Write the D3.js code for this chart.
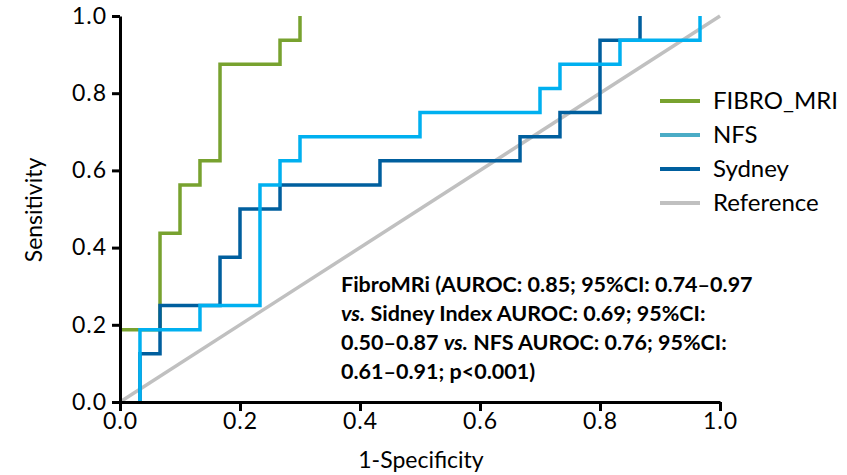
<!DOCTYPE html>
<html lang="en">
<head>
<meta charset="UTF-8">
<title>ROC</title>
<script src="https://d3js.org/d3.v7.min.js"></script>
<style>
  body { margin: 0; background: #fff; }
  svg { display: block; font-family: Lato, "Open Sans", sans-serif; }
  .axis path, .axis line { stroke: #000; stroke-width: 3px; }
  .axis text { font-size: 23px; fill: #000; font-family: Lato, sans-serif; letter-spacing: 1px; }
  .curve { fill: none; stroke-width: 3.5px; }
</style>
</head>
<body>
<svg width="847" height="475"></svg>
<script>
// ROC points (1-specificity, sensitivity)
var fibroX = [0, 0.0667, 0.1, 0.1333, 0.1667, 0.2667, 0.3];
var fibroY = [0.1875, 0.4375, 0.5625, 0.625, 0.875, 0.9375, 1.0];

var nfsX = [0.0333, 0.0333, 0.1333, 0.2333, 0.2667, 0.3, 0.5, 0.7, 0.7333, 0.8333, 0.9667];
var nfsY = [0, 0.1875, 0.25, 0.5625, 0.625, 0.6875, 0.75, 0.8125, 0.875, 0.9375, 1.0];

var sydX = [0.0333, 0.0333, 0.0667, 0.1667, 0.2, 0.2667, 0.4333, 0.6667, 0.7333, 0.8, 0.8667];
var sydY = [0, 0.125, 0.25, 0.375, 0.5, 0.5625, 0.625, 0.6875, 0.75, 0.9375, 1.0];

var refX = [0, 1];
var refY = [0, 1];

var ticks = [0, 0.2, 0.4, 0.6, 0.8, 1.0];
var legendNames = ["FIBRO_MRI", "NFS", "Sydney", "Reference"];
var legendColors = ["#78a22f", "#4bacc6", "#005f9e", "#c0c0c0"];

var svg = d3.select("svg");
var x = d3.scaleLinear().domain([0, 1]).range([120, 720]);
var y = d3.scaleLinear().domain([0, 1]).range([402, 16]);

function pts(xs, ys) { return xs.map((v, i) => [v, ys[i]]); }
var step = d3.line().x(d => x(d[0])).y(d => y(d[1])).curve(d3.curveStepAfter);
var straight = d3.line().x(d => x(d[0])).y(d => y(d[1]));

svg.append("path").attr("class", "curve").attr("d", straight(pts(refX, refY)))
  .attr("stroke", "#c0c0c0");
svg.append("path").attr("class", "curve").attr("d", step(pts(fibroX, fibroY)))
  .attr("stroke", "#78a22f");
svg.append("path").attr("class", "curve").attr("d", step(pts(sydX, sydY)))
  .attr("stroke", "#005f9e");
svg.append("path").attr("class", "curve").attr("d", step(pts(nfsX, nfsY)))
  .attr("stroke", "#00b0f0");

svg.append("g").attr("class", "axis").attr("transform", "translate(0,402)")
  .call(d3.axisBottom(x).tickValues(ticks).tickFormat(d3.format(".1f")).tickSize(9).tickSizeOuter(0).tickPadding(2));
svg.append("g").attr("class", "axis").attr("transform", "translate(120,0)")
  .call(d3.axisLeft(y).tickValues(ticks).tickFormat(d3.format(".1f")).tickSize(8).tickSizeOuter(0).tickPadding(5));

svg.append("text").attr("x", 421).attr("y", 468).attr("text-anchor", "middle")
  .style("font-size", "23px").text("1-Specificity");
svg.append("text").attr("transform", "translate(42,210) rotate(-90)").attr("text-anchor", "middle")
  .style("font-size", "23px").text("Sensitivity");

var leg = svg.append("g").selectAll("g").data(legendNames).enter().append("g")
  .attr("transform", (d, i) => "translate(660," + (101 + i * 34) + ")");
leg.append("line").attr("x1", 0).attr("x2", 40).attr("stroke", (d, i) => legendColors[i]).attr("stroke-width", 4);
leg.append("text").attr("x", 53).attr("y", 8).style("font-size", "24px").text(d => d);

var note = svg.append("text").attr("x", 341).style("font-size", "21.5px").style("font-weight", "bold");
var lines = [
  [["FibroMRi (AUROC: 0.85; 95%CI: 0.74\u20130.97", false]],
  [["vs.", true], [" Sidney Index AUROC: 0.69; 95%CI:", false]],
  [["0.50\u20130.87 ", false], ["vs.", true], [" NFS AUROC: 0.76; 95%CI:", false]],
  [["0.61\u20130.91; p<0.001)", false]]
];
lines.forEach(function (ln, i) {
  ln.forEach(function (part, j) {
    var t = note.append("tspan").text(part[0]).style("font-style", part[1] ? "italic" : "normal");
    if (j === 0) t.attr("x", 341).attr("y", 292 + i * 29);
  });
});
</script>
</body>
</html>
